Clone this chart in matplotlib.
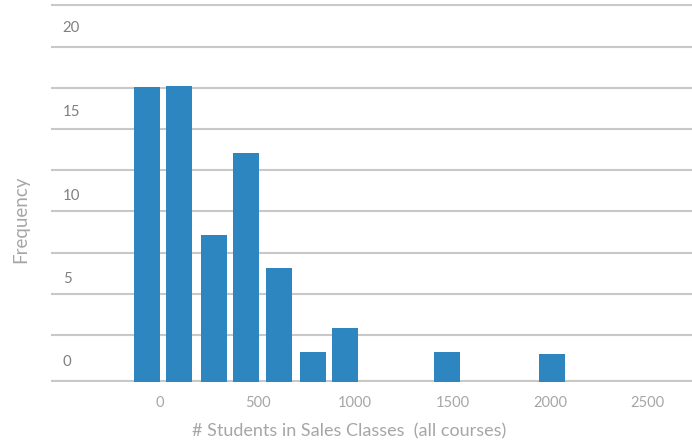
import matplotlib.pyplot as plt
from matplotlib.ticker import FixedLocator

# bin centres (students) and bar heights (frequency)
bin_centres = [-67, 97, 277, 441, 610, 785, 949, 1472, 2010]
frequencies = [17.9, 17.95, 8.9, 13.9, 6.9, 1.8, 3.3, 1.8, 1.7]

x_ticks = [0, 500, 1000, 1500, 2000, 2500]
y_labels = ["0", "5", "10", "15", "20"]
y_label_pos = [1.3, 6.35, 11.4, 16.45, 21.55]
grid_pos = [2.85 + 2.5 * k for k in range(9)]

plt.rcParams['font.family'] = ['Lato', 'DejaVu Sans']

fig = plt.figure(figsize=(6.92, 4.43), dpi=100)
ax = fig.add_axes([0.0737, 0.1377, 0.9263, 0.8537])

ax.bar(bin_centres, frequencies, width=133, color="#2e86c1", zorder=3)

ax.set_xlim(-559, 2728)
ax.set_ylim(0, 22.95)

ax.set_xticks(x_ticks)
ax.set_xticklabels([str(t) for t in x_ticks], color="#a6a6a6", fontsize=10.5)
ax.set_yticks(y_label_pos)
ax.set_yticklabels(y_labels, color="#808080", fontsize=10.8)
ax.yaxis.set_minor_locator(FixedLocator(grid_pos))
ax.tick_params(axis="both", which="both", length=0)
ax.tick_params(axis="y", pad=-8.5)
ax.tick_params(axis="x", pad=10)
for lab in ax.get_yticklabels():
    lab.set_horizontalalignment("left")

ax.grid(axis="y", which="minor", color="#c8c8c8", linewidth=1.5, zorder=0)
ax.grid(axis="y", which="major", visible=False)
ax.grid(axis="x", visible=False)
ax.axhline(0, color="#c8c8c8", linewidth=3, zorder=2)

for s in ax.spines.values():
    s.set_visible(False)

fig.text(349 / 692, 1 - 431 / 443, "# Students in Sales Classes  (all courses)",
         color="#a6a6a6", fontsize=13, ha="center", va="center")
fig.text(21 / 692, 1 - 219 / 443, "Frequency", rotation=90, color="#a6a6a6",
         fontsize=13.5, ha="center", va="center")

fig.savefig("out.png", dpi=100)
